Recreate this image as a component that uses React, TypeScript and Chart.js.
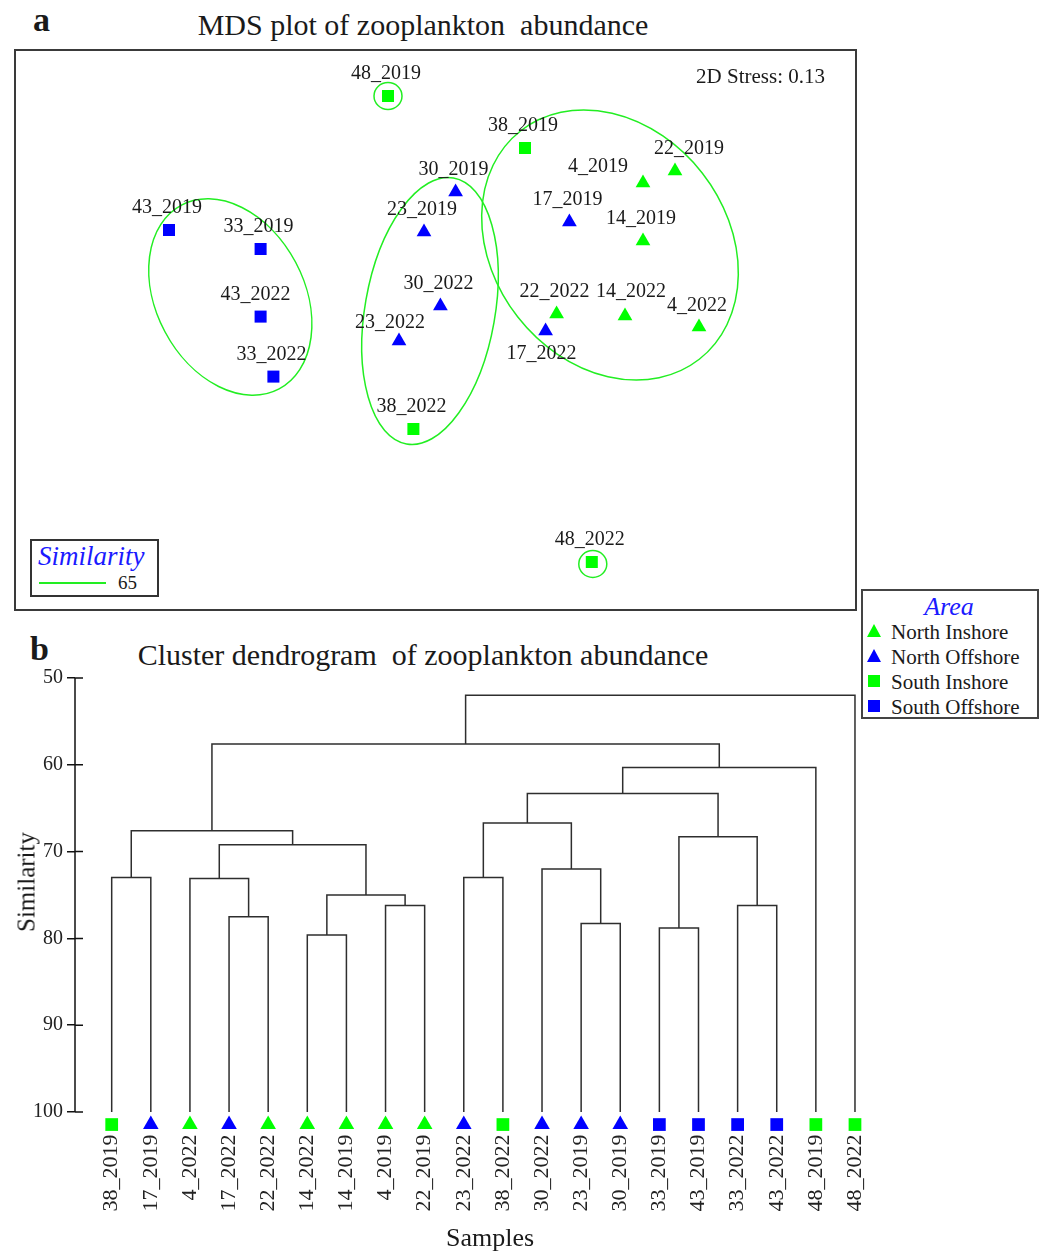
import React, { useEffect, useRef } from "react";
import { Chart, registerables } from "chart.js";

Chart.register(...registerables);

const FONT = "'Liberation Serif', 'Times New Roman', Times, serif";
const GREEN = "#00FF00";
const BLUE = "#0000FF";
const CONTOUR = "#22EE22";
const INK = "#1a1a1a";

// ---------- Panel a: MDS ordination ----------
const mdsSamples = [
  "48_2019", "38_2019", "22_2019", "4_2019", "30_2019", "43_2019", "33_2019",
  "23_2019", "17_2019", "14_2019", "43_2022", "30_2022", "22_2022", "14_2022",
  "4_2022", "23_2022", "17_2022", "33_2022", "38_2022", "48_2022",
];
const mdsX = [
  -0.235, 0.45, 1.2, 1.04, 0.103, -1.33, -0.872, -0.055, 0.672, 1.04, -0.872,
  0.027, 0.608, 0.95, 1.32, -0.18, 0.553, -0.808, -0.108, 0.784,
];
const mdsY = [
  1.17, 0.91, 0.795, 0.735, 0.69, 0.5, 0.405, 0.49, 0.54, 0.445, 0.067, 0.12,
  0.08, 0.07, 0.015, -0.055, -0.005, -0.233, -0.495, -1.16,
];
const mdsArea = [
  "SI", "SI", "NI", "NI", "NO", "SO", "SO", "NO", "NO", "NI", "SO", "NO", "NI",
  "NI", "NI", "NO", "NO", "SO", "SI", "SI",
];
const stressText = "2D Stress: 0.13";
const similarityLevel = "65";

// 65 % similarity contours (MDS units): centre, semi-axes, rotation in degrees
const contourCX = [-0.235, 0.789, -1.0235, -0.025, 0.875];
const contourCY = [1.17, -1.17, 0.165, 0.095, 0.425];
const contourRX = [0.07, 0.07, 0.52, 0.325, 0.585];
const contourRY = [0.0675, 0.067, 0.37, 0.675, 0.725];
const contourRot = [0, 0, 62, 10, -38];

const areaKeys = ["NI", "NO", "SI", "SO"];
const areaNames = ["North Inshore", "North Offshore", "South Inshore", "South Offshore"];
const areaColors = [GREEN, BLUE, GREEN, BLUE];
const areaShapes = ["triangle", "triangle", "rect", "rect"];

// label placement (pixel offsets from the point)
const DEFAULT_OFFSET: [number, number] = [-2, -22];
const labelOffset: Record<string, [number, number]> = {
  "4_2019": [-45, -16],
  "22_2019": [14, -22],
  "14_2022": [6, -24],
  "23_2022": [-9, -18],
  "17_2022": [-4, 23],
  "43_2022": [-5, -22],
  "4_2022": [-2, -21],
};

// ---------- Panel b: cluster dendrogram ----------
const leafOrder = [
  "38_2019", "17_2019", "4_2022", "17_2022", "22_2022", "14_2022", "14_2019",
  "4_2019", "22_2019", "23_2022", "38_2022", "30_2022", "23_2019", "30_2019",
  "33_2019", "43_2019", "33_2022", "43_2022", "48_2019", "48_2022",
];
// merges: node ids 0..19 are leaves, merge k creates node 20 + k
const mergeA = [0, 3, 2, 5, 7, 23, 22, 20, 9, 12, 11, 28, 14, 16, 32, 31, 35, 27, 37];
const mergeB = [1, 4, 21, 6, 8, 24, 25, 26, 10, 13, 29, 30, 15, 17, 33, 34, 18, 36, 19];
const mergeSim = [
  73.0, 77.5, 73.1, 79.6, 76.2, 75.0, 69.2, 67.6, 73.0, 78.3, 72.0, 66.7, 78.8,
  76.2, 68.3, 63.3, 60.3, 57.6, 52.0,
];
const LEAF_LEVEL = 100;
const MARKER_LEVEL = 101.45;

const leafArea = leafOrder.map((s) => mdsArea[mdsSamples.indexOf(s)]);

function MdsChart() {
  const ref = useRef<HTMLCanvasElement>(null);
  useEffect(() => {
    const canvas = ref.current!;
    const datasets = areaKeys.map((k, a) => ({
      label: areaNames[a],
      data: mdsSamples
        .map((s, i) => ({ x: mdsX[i], y: mdsY[i], name: s }))
        .filter((_, i) => mdsArea[i] === k),
      pointStyle: areaShapes[a],
      pointRadius: 8.5,
      backgroundColor: areaColors[a],
      borderColor: areaColors[a],
      borderWidth: 0,
    }));
    const contourPlugin = {
      id: "contours",
      beforeDatasetsDraw(chart: any) {
        const { ctx } = chart;
        const x = chart.scales.x;
        const y = chart.scales.y;
        const kx = Math.abs(x.getPixelForValue(1) - x.getPixelForValue(0));
        const ky = Math.abs(y.getPixelForValue(1) - y.getPixelForValue(0));
        ctx.save();
        ctx.strokeStyle = CONTOUR;
        ctx.lineWidth = 1.5;
        contourCX.forEach((cx, i) => {
          ctx.beginPath();
          ctx.ellipse(
            x.getPixelForValue(cx),
            y.getPixelForValue(contourCY[i]),
            contourRX[i] * kx,
            contourRY[i] * ky,
            (contourRot[i] * Math.PI) / 180,
            0,
            Math.PI * 2
          );
          ctx.stroke();
        });
        ctx.restore();
      },
    };
    const labelPlugin = {
      id: "mdsLabels",
      afterDatasetsDraw(chart: any) {
        const ctx = chart.ctx;
        ctx.save();
        ctx.font = `20px ${FONT}`;
        ctx.fillStyle = INK;
        ctx.textAlign = "center";
        ctx.textBaseline = "middle";
        chart.data.datasets.forEach((ds: any, d: number) => {
          const meta = chart.getDatasetMeta(d);
          meta.data.forEach((el: any, j: number) => {
            const name = ds.data[j].name;
            const [dx, dy] = labelOffset[name] ?? DEFAULT_OFFSET;
            ctx.fillText(name, el.x + dx, el.y + dy);
          });
        });
        ctx.restore();
      },
    };
    const chart = new Chart(canvas, {
      type: "scatter",
      data: { datasets: datasets as any },
      options: {
        animation: false,
        responsive: false,
        maintainAspectRatio: false,
        events: [],
        layout: { padding: 0, autoPadding: false },
        plugins: { legend: { display: false }, tooltip: { enabled: false } },
        scales: {
          x: { type: "linear", display: false, min: -2.1, max: 2.1 },
          y: { type: "linear", display: false, min: -1.4, max: 1.4 },
        },
      },
      plugins: [contourPlugin, labelPlugin],
    });
    return () => chart.destroy();
  }, []);
  return (
    <canvas
      ref={ref}
      width={840}
      height={560}
      style={{ position: "absolute", left: 15, top: 50, width: 840, height: 560 }}
    />
  );
}

function DendroChart() {
  const ref = useRef<HTMLCanvasElement>(null);
  useEffect(() => {
    const canvas = ref.current!;
    const nodeX: number[] = leafOrder.map((_, i) => i);
    const nodeH: number[] = leafOrder.map(() => LEAF_LEVEL);
    mergeA.forEach((a, k) => {
      const b = mergeB[k];
      nodeX.push((nodeX[a] + nodeX[b]) / 2);
      nodeH.push(mergeSim[k]);
    });
    const branchSets = mergeA.map((a, k) => {
      const b = mergeB[k];
      const h = mergeSim[k];
      return {
        data: [
          { x: nodeX[a], y: nodeH[a] },
          { x: nodeX[a], y: h },
          { x: nodeX[b], y: h },
          { x: nodeX[b], y: nodeH[b] },
        ],
        showLine: true,
        borderColor: "#2e2e2e",
        borderWidth: 1.5,
        pointRadius: 0,
        tension: 0,
        fill: false,
      };
    });
    const markerSet = {
      data: leafOrder.map((_, i) => ({ x: i, y: MARKER_LEVEL })),
      showLine: false,
      pointStyle: leafArea.map((a) => areaShapes[areaKeys.indexOf(a)]),
      backgroundColor: leafArea.map((a) => areaColors[areaKeys.indexOf(a)]),
      borderColor: leafArea.map((a) => areaColors[areaKeys.indexOf(a)]),
      borderWidth: 0,
      pointRadius: 9,
    };
    const axisPlugin = {
      id: "dendroAxis",
      afterDraw(chart: any) {
        const { ctx, chartArea } = chart;
        const y = chart.scales.y;
        const xPix = chartArea.left;
        ctx.save();
        ctx.strokeStyle = "#111";
        ctx.lineWidth = 1.5;
        ctx.beginPath();
        ctx.moveTo(xPix, y.getPixelForValue(50));
        ctx.lineTo(xPix, y.getPixelForValue(100));
        y.ticks.forEach((t: any) => {
          const py = y.getPixelForValue(t.value);
          ctx.moveTo(xPix, py);
          ctx.lineTo(xPix + 8, py);
        });
        ctx.stroke();
        ctx.restore();
      },
    };
    const leafLabelPlugin = {
      id: "leafLabels",
      afterDatasetsDraw(chart: any) {
        const { ctx } = chart;
        const xs = chart.scales.x;
        const ys = chart.scales.y;
        ctx.save();
        ctx.font = `22px ${FONT}`;
        ctx.fillStyle = "#222";
        ctx.textAlign = "right";
        ctx.textBaseline = "middle";
        leafOrder.forEach((name, i) => {
          const px = xs.getPixelForValue(i);
          const py = ys.getPixelForValue(MARKER_LEVEL) + 10;
          ctx.save();
          ctx.translate(px, py);
          ctx.rotate(-Math.PI / 2);
          ctx.fillText(name, 0, 0);
          ctx.restore();
        });
        ctx.restore();
      },
    };
    const chart = new Chart(canvas, {
      type: "scatter",
      data: { datasets: [...branchSets, markerSet] as any },
      options: {
        animation: false,
        responsive: false,
        maintainAspectRatio: false,
        events: [],
        layout: { padding: { top: 20, bottom: 114, left: 0, right: 10 }, autoPadding: false },
        plugins: { legend: { display: false }, tooltip: { enabled: false } },
        scales: {
          x: { type: "linear", display: false, min: -0.938, max: 19.384 },
          y: {
            type: "linear",
            reverse: true,
            min: 50,
            max: 103,
            afterFit(scale: any) {
              scale.width = 75;
            },
            afterBuildTicks(scale: any) {
              scale.ticks = scale.ticks.filter((t: any) => t.value <= 100);
            },
            ticks: {
              stepSize: 10,
              padding: 4,
              color: "#222",
              font: { family: FONT, size: 20 },
            },
            grid: {
              display: true,
              drawOnChartArea: false,
              drawTicks: true,
              tickLength: 8,
              color: "#111",
              lineWidth: 1.5,
            },
            border: { display: false },
          },
        },
      },
      plugins: [axisPlugin, leafLabelPlugin],
    });
    return () => chart.destroy();
  }, []);
  return (
    <canvas
      ref={ref}
      width={880}
      height={594}
      style={{ position: "absolute", left: 0, top: 658, width: 880, height: 594 }}
    />
  );
}

function Txt(props: {
  x: number;
  y: number;
  size: number;
  align?: "left" | "center" | "right";
  style?: React.CSSProperties;
  children: React.ReactNode;
}) {
  const { x, y, size, align = "left", style, children } = props;
  const tx = align === "center" ? "-50%" : align === "right" ? "-100%" : "0";
  return (
    <div
      style={{
        position: "absolute",
        left: x,
        top: y,
        transform: `translate(${tx}, -50%)`,
        fontSize: size,
        lineHeight: `${size}px`,
        whiteSpace: "pre",
        ...style,
      }}
    >
      {children}
    </div>
  );
}

function Marker({ x, y, shape, color }: { x: number; y: number; shape: string; color: string }) {
  if (shape === "triangle") {
    return (
      <div
        style={{
          position: "absolute",
          left: x - 7.5,
          top: y - 7,
          width: 0,
          height: 0,
          borderLeft: "7.5px solid transparent",
          borderRight: "7.5px solid transparent",
          borderBottom: `13px solid ${color}`,
        }}
      />
    );
  }
  return (
    <div
      style={{ position: "absolute", left: x - 6, top: y - 6, width: 12, height: 12, background: color }}
    />
  );
}

export default function App() {
  const rowY = [632, 657, 682, 707];
  return (
    <div
      style={{
        position: "absolute",
        left: 0,
        top: 0,
        width: 1046,
        height: 1252,
        background: "#fff",
        fontFamily: FONT,
        color: INK,
        overflow: "hidden",
      }}
    >
      {/* Panel a */}
      <Txt x={33} y={20} size={34} style={{ fontWeight: "bold" }}>a</Txt>
      <Txt x={423} y={25} size={30} align="center">MDS plot of zooplankton  abundance</Txt>
      <div
        style={{
          position: "absolute",
          left: 14,
          top: 49,
          width: 843,
          height: 562,
          boxSizing: "border-box",
          border: "2px solid #3a3a3a",
        }}
      />
      <MdsChart />
      <Txt x={825} y={76} size={21} align="right">{stressText}</Txt>
      <div
        style={{
          position: "absolute",
          left: 30,
          top: 539,
          width: 129,
          height: 58,
          boxSizing: "border-box",
          border: "2px solid #333",
          background: "#fff",
        }}
      />
      <Txt x={38} y={556} size={27} style={{ fontStyle: "italic", color: "#1a1aff" }}>Similarity</Txt>
      <div style={{ position: "absolute", left: 39, top: 582, width: 67, height: 1.5, background: CONTOUR }} />
      <Txt x={118} y={582} size={19}>{similarityLevel}</Txt>

      {/* Area legend */}
      <div
        style={{
          position: "absolute",
          left: 861,
          top: 589,
          width: 178,
          height: 130,
          boxSizing: "border-box",
          border: "2px solid #444",
          background: "#fff",
        }}
      />
      <Txt x={949} y={607} size={26} align="center" style={{ fontStyle: "italic", color: "#1a1aff" }}>Area</Txt>
      {areaNames.map((n, i) => (
        <React.Fragment key={n}>
          <Marker x={874} y={rowY[i] - 1} shape={areaShapes[i]} color={areaColors[i]} />
          <Txt x={891} y={rowY[i]} size={21}>{n}</Txt>
        </React.Fragment>
      ))}

      {/* Panel b */}
      <Txt x={30} y={649} size={34} style={{ fontWeight: "bold" }}>b</Txt>
      <Txt x={423} y={655} size={30} align="center">Cluster dendrogram  of zooplankton abundance</Txt>
      <DendroChart />
      <div
        style={{
          position: "absolute",
          left: 26,
          top: 882,
          transform: "translate(-50%, -50%) rotate(-90deg)",
          fontSize: 25,
          lineHeight: "25px",
          whiteSpace: "pre",
        }}
      >
        Similarity
      </div>
      <Txt x={490} y={1238} size={26} align="center">Samples</Txt>
    </div>
  );
}
